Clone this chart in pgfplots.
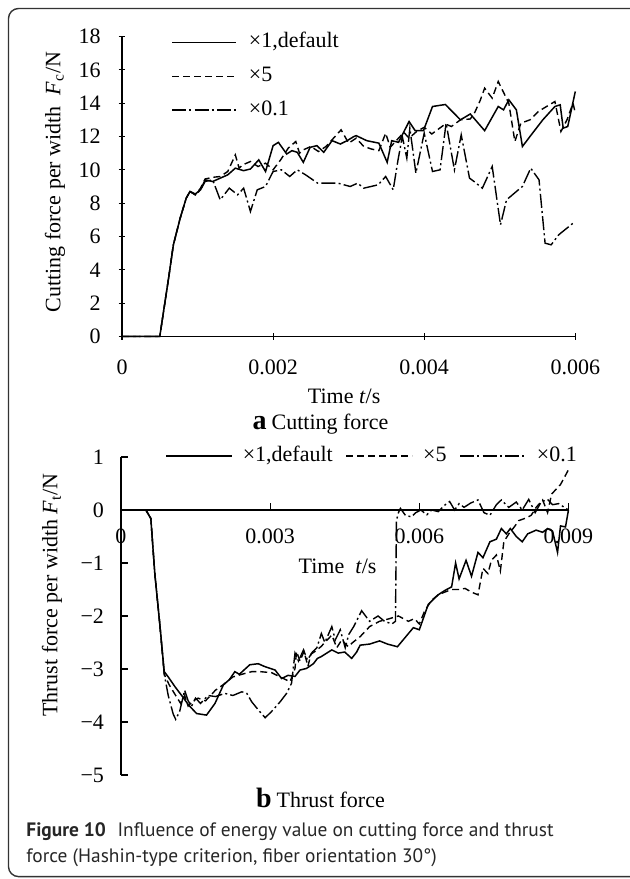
\documentclass[border=0pt]{standalone}
\usepackage{fontspec}
\setmainfont{Liberation Serif}
\newfontfamily\capfont{PT Sans}
\usepackage{pgfplots}
\pgfplotsset{compat=1.18}

\pgfplotsset{
  s1/.style={black, line width=0.75pt},
  s5/.style={black, line width=0.7pt, dash pattern=on 3.5pt off 2pt},
  s01/.style={black, line width=0.7pt, dash pattern=on 7pt off 1.6pt on 1pt off 1.6pt},
  common/.style={
    scale only axis, clip=false,
    font=\fontsize{11}{13}\selectfont,
    axis line style={-, line width=0.6pt, black},
    tick align=inside, major tick length=3.3pt,
    tick style={line width=0.6pt, black},
    scaled x ticks=false,
    legend cell align=left,
  },
}

\begin{document}
\begin{tikzpicture}
\useasboundingbox (0,0) rectangle (315pt,439.5pt);
\draw[rounded corners=5pt, line width=0.7pt, black!80] (4.25pt,1.2pt) rectangle (330pt,435.25pt);

% (a) cutting force
\begin{axis}[
  common,
  at={(61pt,271.25pt)}, anchor=south west,
  width=226.65pt, height=150pt,
  axis x line=bottom, axis y line=left, axis line style={-},
  xmin=0, xmax=0.006, ymin=0, ymax=18,
  xtick={0,0.002,0.004,0.006}, xticklabels={0,0.002,0.004,0.006},
  ytick={0,2,4,6,8,10,12,14,16,18}, yticklabels={0,2,4,6,8,10,12,14,16,18},
  xticklabel style={yshift=-6.5pt},
  yticklabel style={xshift=-5.5pt},
  xlabel={Time \textit{t}/s},
  xlabel style={at={(axis description cs:0.49,-0.2)}, anchor=center},
  ylabel={Cutting force per width\ \ \textit{F}\textsubscript{c}/N},
  ylabel style={at={(axis description cs:-0.148,0.515)}, anchor=center},
  legend image code/.code={\draw[#1] (0pt,0pt) -- (32pt,0pt);},
  legend style={draw=none, fill=none, at={(0.108,1.015)}, anchor=north west,
    inner sep=0pt, row sep=6.5pt,
    nodes={inner sep=0pt, text height=7.8pt, text depth=2.5pt},
    /tikz/every odd column/.append style={column sep=6pt}},
]
\addplot[s1] coordinates {
(0,0)(0.0005,0)(0.00062,3.6)(0.00068,5.5)(0.00077,7.1)(0.00085,8.3)(0.0009,8.7)
(0.00097,8.55)(0.00104,8.8)(0.0011,9.4)(0.0012,9.3)(0.0013,9.5)(0.0014,9.7)
(0.0015,10.1)(0.00161,9.95)(0.0017,10.05)(0.00181,10.6)(0.0019,9.9)(0.002,11.45)
(0.00207,11.65)(0.00218,10.95)(0.00225,11.15)(0.00232,11.05)(0.0024,10.45)
(0.00249,11.35)(0.00258,11.45)(0.00267,11.05)(0.00278,11.75)(0.00289,11.55)
(0.00298,11.75)(0.00307,12.0)(0.0031,12.05)(0.00324,11.75)(0.0034,11.6)
(0.00351,10.45)(0.00357,11.75)(0.00366,11.65)(0.0038,12.9)(0.00388,12.35)
(0.00399,12.35)(0.00411,13.8)(0.00428,13.92)(0.00448,13.0)(0.00461,13.35)
(0.0048,12.35)(0.00498,13.8)(0.00505,13.6)(0.00512,14.2)(0.00522,13.6)
(0.0053,11.4)(0.0054,12.0)(0.00557,13.0)(0.00573,13.8)(0.0058,13.9)
(0.00584,12.5)(0.0059,12.6)(0.006,14.7)
};
\addlegendentry{×1,default}
\addplot[s5] coordinates {
(0,0)(0.0005,0)(0.00062,3.6)(0.00068,5.5)(0.00077,7.1)(0.00085,8.3)(0.0009,8.7)
(0.00097,8.5)(0.00104,8.9)(0.0011,9.45)(0.0012,9.55)(0.0013,9.6)(0.0014,9.9)
(0.0015,10.9)(0.00155,10.1)(0.0016,10.3)(0.0017,10.5)(0.0018,10.2)(0.0019,10.4)
(0.002,10.0)(0.0021,10.6)(0.0022,11.3)(0.0023,11.7)(0.00235,11.0)(0.0024,11.2)
(0.0025,11.4)(0.0026,11.1)(0.0027,11.4)(0.0028,11.9)(0.0029,12.4)(0.003,11.6)
(0.0031,11.9)(0.0032,11.4)(0.0033,11.25)(0.0034,11.15)(0.00349,12.2)
(0.00355,11.35)(0.00363,11.75)(0.00373,12.25)(0.0038,11.9)(0.0039,12.3)
(0.004,12.55)(0.0041,12.15)(0.00428,12.75)(0.00436,12.6)(0.00448,13.0)
(0.00461,13.05)(0.00467,13.45)(0.00474,14.15)(0.0048,14.9)(0.0049,14.3)
(0.00498,15.3)(0.00512,14.0)(0.0052,11.7)(0.00528,12.8)(0.0054,13.0)
(0.00551,13.5)(0.00562,13.8)(0.00573,14.1)(0.00581,12.3)(0.00589,13.0)
(0.00597,14.0)(0.006,13.4)
};
\addlegendentry{×5}
\addplot[s01] coordinates {
(0,0)(0.0005,0)(0.00062,3.6)(0.00068,5.5)(0.00077,7.1)(0.00085,8.3)(0.0009,8.7)
(0.00097,8.5)(0.00104,8.8)(0.0011,9.3)(0.0012,9.4)(0.0013,8.2)(0.00142,8.9)
(0.00153,8.5)(0.00161,8.9)(0.0017,7.5)(0.00179,8.8)(0.0019,9.0)(0.002,9.9)
(0.00211,10.0)(0.00222,9.6)(0.00232,10.0)(0.00243,9.7)(0.00259,9.2)(0.00286,9.2)
(0.00302,9.0)(0.00312,9.2)(0.0032,8.9)(0.00339,9.1)(0.00349,9.6)(0.00359,8.8)
(0.00365,10.5)(0.00371,12.0)(0.00377,10.7)(0.00381,12.5)(0.00389,9.8)(0.004,12.2)
(0.00411,9.9)(0.00421,10.0)(0.00429,12.8)(0.0044,10.0)(0.00449,12.1)(0.0046,9.5)
(0.00466,9.3)(0.00477,8.9)(0.0049,10.2)(0.00501,6.7)(0.00509,8.2)(0.00522,8.7)
(0.0053,9.0)(0.00541,10.1)(0.00552,9.4)(0.0056,5.6)(0.00568,5.5)(0.00578,6.1)
(0.00597,6.8)
};
\addlegendentry{×0.1}
\end{axis}

\node[anchor=base] at (160.25pt,224.8pt) {{\fontsize{14}{14}\selectfont\bfseries a} \fontsize{11}{13}\selectfont Cutting force};

% (b) thrust force
\begin{axis}[
  common,
  at={(60.5pt,52pt)}, anchor=south west,
  width=223.75pt, height=159pt,
  axis x line=middle, axis y line=left, axis line style={-},
  tick align=inside,
  hide obscured x ticks=false, hide obscured y ticks=false,
  xmin=0, xmax=0.009, ymin=-5, ymax=1,
  xtick={0,0.003,0.006,0.009}, xticklabels={0,0.003,0.006,0.009},
  ytick={-5,-4,-3,-2,-1,0,1}, yticklabels={−5,−4,−3,−2,−1,0,1},
  xticklabel style={anchor=north, yshift=-6pt},
  yticklabel style={xshift=-5pt},
  xlabel={Time\ \ \textit{t}/s},
  xlabel style={at={(axis description cs:0.484,0.655)}, anchor=center},
  ylabel={Thrust force per width \textit{F}\textsubscript{t}/N},
  ylabel style={at={(axis description cs:-0.154,0.566)}, anchor=center},
  legend columns=-1,
  legend image code/.code={\draw[#1] (0pt,0pt) -- (33pt,0pt);},
  legend style={draw=none, fill=none, at={(0.098,1.003)}, anchor=west,
    inner sep=0pt,
    nodes={inner sep=0pt, text height=7.8pt, text depth=2.5pt},
    /tikz/every odd column/.append style={column sep=5pt},
    /tikz/every even column/.append style={column sep=6.5pt}},
]
\addplot[s1] coordinates {
(0,0)(0.0005,0)(0.0006,-0.16)(0.00068,-1.2)(0.00078,-2.15)(0.00087,-3.05)
(0.00095,-3.15)(0.00109,-3.34)(0.00122,-3.5)(0.00136,-3.68)(0.00152,-3.84)
(0.00172,-3.87)(0.00189,-3.65)(0.00206,-3.3)(0.00218,-3.2)(0.00229,-3.05)
(0.00238,-3.1)(0.00259,-2.92)(0.00276,-2.9)(0.00288,-2.95)(0.0031,-3.02)
(0.00323,-3.18)(0.00336,-3.12)(0.0035,-3.14)(0.0036,-3.02)(0.00373,-2.99)
(0.00387,-2.9)(0.00395,-2.8)(0.00402,-2.77)(0.00424,-2.64)(0.00437,-2.7)
(0.0045,-2.68)(0.00464,-2.8)(0.00474,-2.68)(0.00481,-2.55)(0.005,-2.53)
(0.0052,-2.47)(0.00536,-2.53)(0.00556,-2.58)(0.00572,-2.4)(0.00588,-2.22)
(0.006,-2.26)(0.00618,-1.78)(0.00638,-1.6)(0.00651,-1.52)(0.00665,-1.45)
(0.00673,-1.0)(0.0068,-1.3)(0.00694,-0.95)(0.00705,-1.25)(0.00718,-0.8)
(0.00728,-0.9)(0.00742,-0.6)(0.00755,-0.55)(0.00765,-0.35)(0.00775,-0.45)
(0.00783,-0.35)(0.00795,-0.5)(0.00807,-0.6)(0.00818,-0.45)(0.00835,-0.38)
(0.00848,-0.42)(0.00858,-0.35)(0.00868,-0.4)(0.00878,-0.8)(0.00884,-0.3)
(0.00894,-0.32)(0.009,0)
};
\addlegendentry{×1,default}
\addplot[s5] coordinates {
(0,0)(0.0005,0)(0.0006,-0.16)(0.00068,-1.2)(0.00078,-2.15)(0.00087,-3.1)
(0.00097,-3.3)(0.0011,-3.5)(0.0012,-3.65)(0.00128,-3.5)(0.00135,-3.7)
(0.00145,-3.6)(0.00155,-3.55)(0.0017,-3.6)(0.0019,-3.4)(0.00205,-3.3)
(0.00225,-3.15)(0.00243,-3.1)(0.00263,-3.05)(0.0028,-3.05)(0.00303,-3.07)
(0.0032,-3.15)(0.0034,-3.24)(0.0035,-2.99)(0.00353,-2.67)(0.0036,-2.85)
(0.00368,-2.67)(0.00376,-2.95)(0.00382,-2.72)(0.0039,-2.67)(0.00402,-2.58)
(0.00424,-2.36)(0.00434,-2.6)(0.00444,-2.45)(0.00457,-2.58)(0.00466,-2.5)
(0.00481,-2.39)(0.005,-2.2)(0.0052,-2.1)(0.0054,-2.05)(0.00558,-2.0)
(0.00578,-2.1)(0.0059,-2.05)(0.006,-2.15)(0.00611,-1.9)(0.00625,-1.7)
(0.00638,-1.6)(0.00651,-1.55)(0.00665,-1.5)(0.0068,-1.5)(0.00692,-1.48)
(0.00705,-1.55)(0.00718,-1.6)(0.00728,-1.1)(0.00738,-1.2)(0.00745,-0.95)
(0.00755,-0.85)(0.00763,-1.15)(0.0077,-0.6)(0.0078,-0.45)(0.00791,-0.32)
(0.008,-0.2)(0.00815,-0.15)(0.00825,-0.1)(0.00835,0.05)(0.00848,0.19)
(0.00858,-0.05)(0.00866,0.3)(0.00884,0.48)(0.009,0.76)
};
\addlegendentry{×5}
\addplot[s01] coordinates {
(0,0)(0.0005,0)(0.0006,-0.16)(0.00068,-1.2)(0.00078,-2.15)(0.00087,-3.1)
(0.00095,-3.5)(0.00105,-3.85)(0.0011,-3.95)(0.00118,-3.8)(0.00128,-3.4)
(0.00135,-3.6)(0.00142,-3.7)(0.0015,-3.55)(0.0016,-3.65)(0.00175,-3.5)
(0.0019,-3.52)(0.00209,-3.46)(0.00225,-3.5)(0.00243,-3.43)(0.00253,-3.46)
(0.00263,-3.62)(0.00276,-3.77)(0.0029,-3.92)(0.00303,-3.8)(0.0032,-3.62)
(0.00333,-3.46)(0.00343,-3.27)(0.0035,-2.7)(0.00357,-2.85)(0.00367,-2.64)
(0.00375,-2.83)(0.00385,-2.68)(0.00394,-2.6)(0.00403,-2.33)(0.0041,-2.5)
(0.00424,-2.2)(0.00431,-2.45)(0.00441,-2.26)(0.00451,-2.6)(0.00458,-2.35)
(0.00468,-2.2)(0.00484,-1.9)(0.005,-2.1)(0.00517,-2.0)(0.0053,-2.1)
(0.00545,-2.15)(0.00552,-2.1)(0.00554,-0.2)(0.00558,-0.05)(0.00562,0.03)
(0.00572,-0.1)(0.00584,-0.13)(0.00593,-0.05)(0.00603,0.0)(0.00615,-0.09)
(0.00625,0.0)(0.00638,-0.03)(0.00651,0.09)(0.00661,0.16)(0.00671,0.0)
(0.0068,0.12)(0.0069,0.05)(0.00703,0.13)(0.00718,0.19)(0.0073,-0.05)
(0.00742,-0.1)(0.00755,0.1)(0.00765,0.19)(0.0078,0.05)(0.00795,0.15)
(0.00807,0.0)(0.0082,0.2)(0.00833,-0.05)(0.00845,0.15)(0.00858,0.2)
(0.00868,0.1)(0.0088,0.12)(0.009,0.0)
};
\addlegendentry{×0.1}
\end{axis}

\node[anchor=base] at (160.25pt,35.5pt) {{\fontsize{14}{14}\selectfont\bfseries b} \fontsize{11}{13}\selectfont Thrust force};

\node[anchor=base west, inner sep=0pt, text=black!85] at (13pt,21.2pt)
  {\capfont\fontsize{9.7}{11}\selectfont\textbf{Figure 10}\hspace{0.6em}Influence of energy value on cutting force and thrust};
\node[anchor=base west, inner sep=0pt, text=black!85] at (13pt,8.2pt)
  {\capfont\fontsize{9.7}{11}\selectfont force (Hashin-type criterion, fiber orientation 30°)};
\end{tikzpicture}
\end{document}
